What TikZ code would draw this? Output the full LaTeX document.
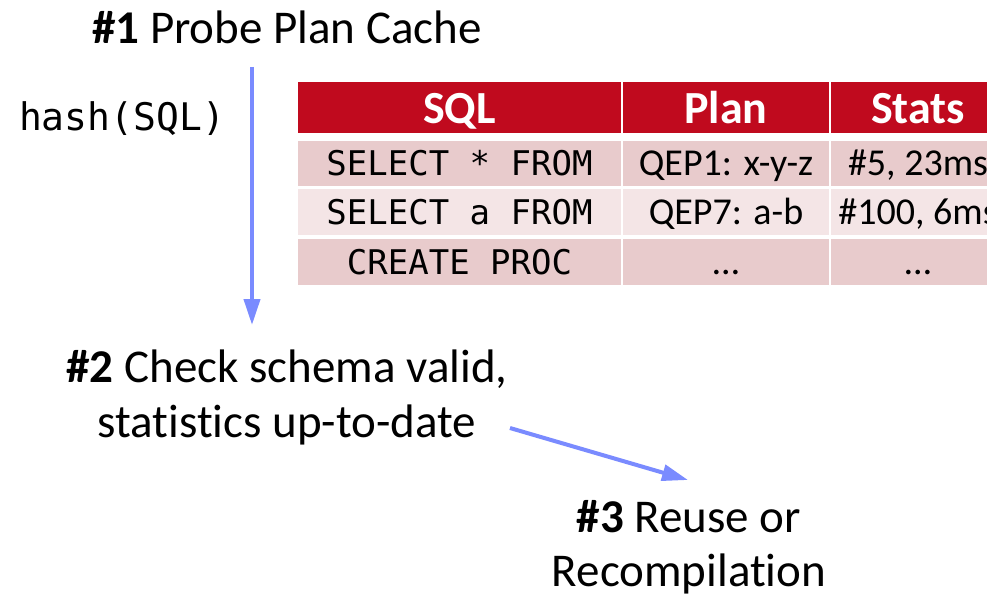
\documentclass[tikz,border=0pt]{standalone}
\usepackage{fontspec}
\setmainfont{Carlito}[Ligatures={NoCommon}]
\setmonofont{DejaVu Sans Mono}
\usetikzlibrary{arrows.meta}
\definecolor{hdr}{RGB}{192,10,30}
\definecolor{rowa}{RGB}{232,203,204}
\definecolor{rowb}{RGB}{244,229,230}
\definecolor{arr}{RGB}{122,139,255}
\tikzset{
  lbl/.style={inner sep=0pt, anchor=base, font=\fontsize{47}{56}\selectfont},
  hdrtxt/.style={inner sep=0pt, anchor=base, text=white, font=\fontsize{46}{55}\selectfont\bfseries},
  celltxt/.style={inner sep=0pt, anchor=base, font=\fontsize{38}{45}\selectfont},
  monotxt/.style={inner sep=0pt, anchor=base, font=\fontsize{34}{40}\ttfamily},
  flow/.style={draw=arr, line width=4pt, -{Triangle[length=26pt,width=16pt]}},
}
\begin{document}
\begin{tikzpicture}[x=1pt,y=-1pt]
\clip (0,0) rectangle (987,599);
\fill[white] (0,0) rectangle (987,599);
% table backgrounds
\fill[hdr] (298,82) rectangle (621,133);
\fill[hdr] (623,82) rectangle (829,133);
\fill[hdr] (831,82) rectangle (1010,133);
\fill[rowa] (298,141) rectangle (621,186);
\fill[rowa] (623,141) rectangle (829,186);
\fill[rowa] (831,141) rectangle (1010,186);
\fill[rowb] (298,189) rectangle (621,235);
\fill[rowb] (623,189) rectangle (829,235);
\fill[rowb] (831,189) rectangle (1010,235);
\fill[rowa] (298,239) rectangle (621,285);
\fill[rowa] (623,239) rectangle (829,285);
\fill[rowa] (831,239) rectangle (1010,285);
% header texts
\node[hdrtxt] (hsql) at (459.5,124) {SQL};
\node[hdrtxt] (hplan) at (726,124) {Plan};
\node[hdrtxt] (hstats) at (918,124) {Stats};
% rows
\node[monotxt] (r1a) at (459.5,175) {SELECT * FROM};
\node[celltxt] (r1b) at (726,175) {QEP1: x-y-z};
\node[celltxt] (r1c) at (918,175) {\#5, 23ms};
\node[monotxt] (r2a) at (459.5,224) {SELECT a FROM};
\node[celltxt] (r2b) at (726,224) {QEP7: a-b};
\node[celltxt] (r2c) at (918,224) {\#100, 6ms};
\node[monotxt] (r3a) at (459.5,274) {CREATE PROC};
\node[celltxt] (r3b) at (726,274) {…};
\node[celltxt] (r3c) at (918,274) {…};
% labels
\node[lbl] (s1) at (287,44) {\textbf{\#1} Probe Plan Cache};
\node[inner sep=0pt, anchor=base, font=\fontsize{38}{45}\ttfamily] (hash) at (122,130) {hash(SQL)};
\node[lbl] (s2a) at (287,382) {\textbf{\#2} Check schema valid,};
\node[lbl] (s2b) at (287,437) {statistics up-to-date};
\node[lbl] (s3a) at (689,532) {\textbf{\#3} Reuse or};
\node[lbl] (s3b) at (689,586) {Recompilation};
% arrows
\coordinate (a1s) at (252,67);
\coordinate (a1e) at (252,325);
\coordinate (a2s) at (510,428);
\coordinate (a2e) at (688,480);
\draw[flow] (a1s) -- (a1e);
\draw[flow] (a2s) -- (a2e);
\end{tikzpicture}
\end{document}
